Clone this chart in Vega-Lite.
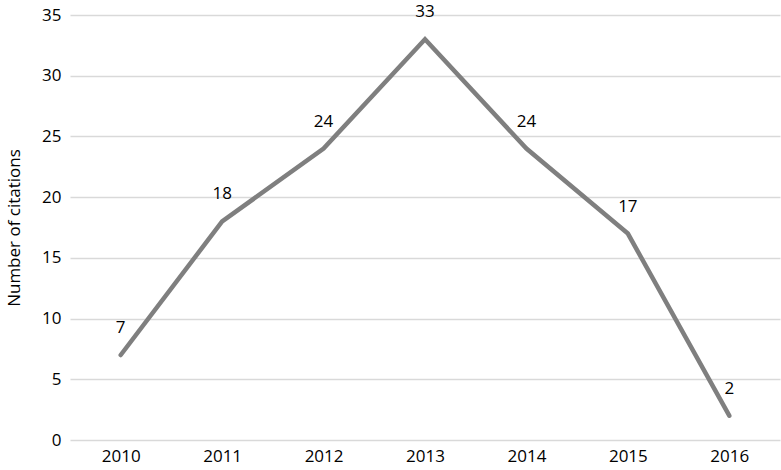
{
  "$schema": "https://vega.github.io/schema/vega-lite/v6.json",
  "width": 710,
  "height": 425,
  "autosize": {"type": "none"},
  "padding": {"left": 70, "top": 15, "right": 1, "bottom": 30},
  "background": "white",
  "config": {
    "view": {"stroke": null},
    "font": "Open Sans"
  },
  "data": {
    "values": [
      {"year": "2010", "citations": 7},
      {"year": "2011", "citations": 18},
      {"year": "2012", "citations": 24},
      {"year": "2013", "citations": 33},
      {"year": "2014", "citations": 24},
      {"year": "2015", "citations": 17},
      {"year": "2016", "citations": 2}
    ]
  },
  "encoding": {
    "x": {
      "field": "year",
      "type": "ordinal",
      "scale": {"paddingInner": 0, "paddingOuter": 0.5},
      "axis": {
        "title": null,
        "labelAngle": 0,
        "labelFontSize": 17,
        "labelColor": "#000000",
        "domain": false,
        "ticks": false,
        "grid": false,
        "labelPadding": 8
      }
    },
    "y": {
      "field": "citations",
      "type": "quantitative",
      "scale": {"domain": [0, 35]},
      "axis": {
        "title": "Number of citations",
        "titleFontSize": 17,
        "titleFontWeight": "normal",
        "titleColor": "#000000",
        "titlePadding": 18,
        "values": [0, 5, 10, 15, 20, 25, 30, 35],
        "labelFontSize": 17,
        "labelColor": "#000000",
        "labelPadding": 9,
        "domain": false,
        "ticks": false,
        "grid": true,
        "gridColor": "#d9d9d9",
        "gridWidth": 1.3
      }
    }
  },
  "layer": [
    {
      "mark": {"type": "line", "color": "#7f7f7f", "strokeWidth": 4.5, "strokeCap": "round"}
    },
    {
      "mark": {"type": "text", "fontSize": 17, "color": "#000000", "dy": -27},
      "encoding": {"text": {"field": "citations", "type": "quantitative"}}
    }
  ]
}
